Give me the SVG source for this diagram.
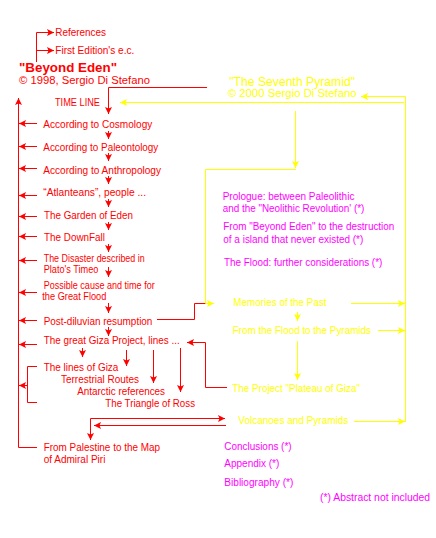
<svg xmlns="http://www.w3.org/2000/svg" width="436" height="538" viewBox="0 0 436 538">
<style>
text{font-family:"Liberation Sans",Arial,sans-serif;font-size:10px}
.r{fill:#ff0000}.y{fill:#ffff00}.m{fill:#ff00ff}
.b{font-weight:bold;font-size:13px}
.ln{fill:none;stroke-width:1}
.rl{stroke:#ff0000}.yl{stroke:#ffff00}
.ar{marker-end:url(#ra)}.ay{marker-end:url(#ya)}
</style>
<defs>
<marker id="ra" markerUnits="userSpaceOnUse" viewBox="0 0 7 7" refX="7" refY="3.5" markerWidth="7" markerHeight="7" orient="auto"><path d="M0,0 L7,3.5 L0,7 L1.5,3.5 z" fill="#ff0000"/></marker>
<marker id="ya" markerUnits="userSpaceOnUse" viewBox="0 0 7 7" refX="7" refY="3.5" markerWidth="7" markerHeight="7" orient="auto"><path d="M0,0 L7,3.5 L0,7 L1.5,3.5 z" fill="#ffff00"/></marker>
</defs>
<rect width="436" height="538" fill="#ffffff"/>
<g id="connectors">
<g class="ln rl">
<path d="M36.5,62 V32.5 H54" class="ar"/>
<path d="M36.5,50.5 H54" class="ar"/>
<path d="M207,87.5 H108.5 V114" class="ar"/>
<path d="M108.5,131 V139" class="ar"/>
<path d="M108.5,153 V161" class="ar"/>
<path d="M108.5,176 V184" class="ar"/>
<path d="M108.5,199 V207" class="ar"/>
<path d="M108.5,222 V230" class="ar"/>
<path d="M108.5,244 V252" class="ar"/>
<path d="M108.5,267 V277" class="ar"/>
<path d="M108.5,303 V313" class="ar"/>
<path d="M108.5,327 V336" class="ar"/>
<path d="M82.5,348 V357" class="ar"/>
<path d="M126.5,350 V366" class="ar"/>
<path d="M153.5,350 V383" class="ar"/>
<path d="M180.5,348 V392" class="ar"/>
<path d="M37,447.5 H18.5 V98" class="ar"/>
<path d="M37,123.5 H19" class="ar"/>
<path d="M37,146.5 H19" class="ar"/>
<path d="M37,168.5 H19" class="ar"/>
<path d="M37,195.5 H19" class="ar"/>
<path d="M37,216.5 H19" class="ar"/>
<path d="M37,236.5 H19" class="ar"/>
<path d="M37,260.5 H19" class="ar"/>
<path d="M37,292.5 H19" class="ar"/>
<path d="M37,320.5 H19" class="ar"/>
<path d="M37,344.5 H19" class="ar"/>
<path d="M37,366.5 H27.5 V402.5 H37"/>
<path d="M27.5,385.5 H19" class="ar"/>
<path d="M157,319.5 H194.5 V303.5 H207"/>
<path d="M227,387.5 H205.5 V342.5 H187" class="ar"/>
<path d="M90.5,418.5 V440" class="ar"/>
<path d="M90.5,418.5 H225" class="ar"/>
<path d="M226,425.5 H94" class="ar"/>
</g>
<g class="ln yl">
<path d="M404,102.5 H120" class="ay"/>
<path d="M405.5,96.5 V422"/>
<path d="M405.5,96.5 H361" class="ay"/>
<path d="M295.5,111 V168" class="ay"/>
<path d="M296,169.5 H205.5 V303.5 H214" class="ay"/>
<path d="M297.5,312 V321" class="ay"/>
<path d="M297.5,341 V380" class="ay"/>
<path d="M351,303.5 H405" class="ay"/>
<path d="M378,330.5 H405" class="ay"/>
<path d="M354,421.5 H405" class="ay"/>
</g>
</g>
<g id="references"><text class="r" x="55.3" y="36" textLength="50.7" lengthAdjust="spacingAndGlyphs">References</text></g>
<g id="first-edition"><text class="r" x="55.3" y="54" textLength="79" lengthAdjust="spacingAndGlyphs">First Edition's e.c.</text></g>
<g id="beyond-eden"><text class="r b" x="19" y="72" textLength="98" lengthAdjust="spacingAndGlyphs">"Beyond Eden"</text>
<text class="r" x="19" y="84" textLength="131" lengthAdjust="spacingAndGlyphs">© 1998, Sergio Di Stefano</text></g>
<g id="seventh-pyramid"><text class="y" style="font-size:13px" x="229.3" y="85.5" textLength="125.7" lengthAdjust="spacingAndGlyphs">"The Seventh Pyramid"</text>
<text class="y" x="227.7" y="97.3" textLength="129" lengthAdjust="spacingAndGlyphs">© 2000 Sergio Di Stefano</text></g>
<g id="time-line"><text class="r" x="55" y="106" textLength="45" lengthAdjust="spacingAndGlyphs">TIME LINE</text></g>
<g id="cosmology"><text class="r" x="43.3" y="128" textLength="109" lengthAdjust="spacingAndGlyphs">According to Cosmology</text></g>
<g id="paleontology"><text class="r" x="43.3" y="151" textLength="115" lengthAdjust="spacingAndGlyphs">According to Paleontology</text></g>
<g id="anthropology"><text class="r" x="43.3" y="173.5" textLength="117.7" lengthAdjust="spacingAndGlyphs">According to Anthropology</text></g>
<g id="atlanteans"><text class="r" x="43.3" y="196" textLength="102.7" lengthAdjust="spacingAndGlyphs">“Atlanteans”, people ...</text></g>
<g id="garden"><text class="r" x="44" y="218.7" textLength="89" lengthAdjust="spacingAndGlyphs">The Garden of Eden</text></g>
<g id="downfall"><text class="r" x="44" y="241" textLength="61" lengthAdjust="spacingAndGlyphs">The DownFall</text></g>
<g id="disaster"><text class="r" x="43.7" y="262" textLength="101" lengthAdjust="spacingAndGlyphs">The Disaster described in</text>
<text class="r" x="43.7" y="273.3" textLength="54.7" lengthAdjust="spacingAndGlyphs">Plato's Timeo</text></g>
<g id="possible-cause"><text class="r" x="43.7" y="289" textLength="111" lengthAdjust="spacingAndGlyphs">Possible cause and time for</text>
<text class="r" x="42.3" y="300" textLength="64" lengthAdjust="spacingAndGlyphs">the Great Flood</text></g>
<g id="post-diluvian"><text class="r" x="43.7" y="325.3" textLength="108.7" lengthAdjust="spacingAndGlyphs">Post-diluvian resumption</text></g>
<g id="giza-project"><text class="r" x="43.7" y="344.3" textLength="136" lengthAdjust="spacingAndGlyphs">The great Giza Project, lines ...</text></g>
<g id="lines-of-giza"><text class="r" x="43.7" y="371.3" textLength="74.7" lengthAdjust="spacingAndGlyphs">The lines of Giza</text></g>
<g id="terrestrial"><text class="r" x="61" y="383" textLength="78" lengthAdjust="spacingAndGlyphs">Terrestrial Routes</text></g>
<g id="antarctic"><text class="r" x="77.3" y="395.3" textLength="87.7" lengthAdjust="spacingAndGlyphs">Antarctic references</text></g>
<g id="triangle"><text class="r" x="105.3" y="407.3" textLength="89.7" lengthAdjust="spacingAndGlyphs">The Triangle of Ross</text></g>
<g id="palestine"><text class="r" x="43.7" y="450.5" textLength="116.3" lengthAdjust="spacingAndGlyphs">From Palestine to the Map</text>
<text class="r" x="43.7" y="462.7" textLength="61.7" lengthAdjust="spacingAndGlyphs">of Admiral Piri</text></g>
<g id="prologue"><text class="m" x="222.7" y="200" textLength="131.7" lengthAdjust="spacingAndGlyphs">Prologue: between Paleolithic</text>
<text class="m" x="222.7" y="212" textLength="141.7" lengthAdjust="spacingAndGlyphs">and the "Neolithic Revolution' (*)</text></g>
<g id="from-beyond"><text class="m" x="223.3" y="230" textLength="171" lengthAdjust="spacingAndGlyphs">From "Beyond Eden" to the destruction</text>
<text class="m" x="223.3" y="242.7" textLength="140" lengthAdjust="spacingAndGlyphs">of a island that never existed (*)</text></g>
<g id="flood-further"><text class="m" x="224" y="266" textLength="158.3" lengthAdjust="spacingAndGlyphs">The Flood: further considerations (*)</text></g>
<g id="memories"><text class="y" x="233.3" y="306" textLength="93.3" lengthAdjust="spacingAndGlyphs">Memories of the Past</text></g>
<g id="flood-pyramids"><text class="y" x="232.7" y="333.5" textLength="138.3" lengthAdjust="spacingAndGlyphs">From the Flood to the Pyramids</text></g>
<g id="plateau"><text class="y" x="232.3" y="392" textLength="127.7" lengthAdjust="spacingAndGlyphs">The Project "Plateau of Giza"</text></g>
<g id="volcanoes"><text class="y" x="238.3" y="424" textLength="110" lengthAdjust="spacingAndGlyphs">Volcanoes and Pyramids</text></g>
<g id="conclusions"><text class="m" x="224.3" y="450" textLength="67.3" lengthAdjust="spacingAndGlyphs">Conclusions (*)</text></g>
<g id="appendix"><text class="m" x="224.3" y="467.3" textLength="55" lengthAdjust="spacingAndGlyphs">Appendix (*)</text></g>
<g id="bibliography"><text class="m" x="224.3" y="486" textLength="69" lengthAdjust="spacingAndGlyphs">Bibliography (*)</text></g>
<g id="note"><text class="m" x="320" y="501.3" textLength="110" lengthAdjust="spacingAndGlyphs">(*) Abstract not included</text></g>
</svg>
